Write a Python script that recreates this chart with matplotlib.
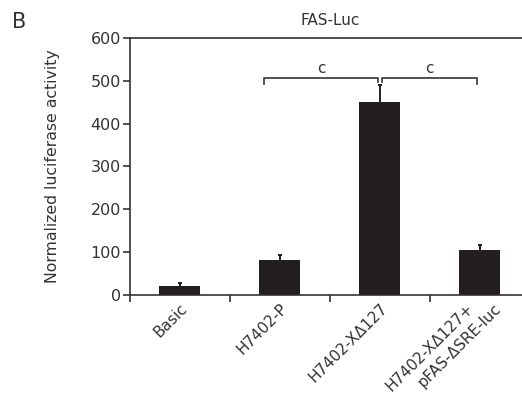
import matplotlib
matplotlib.use('Agg')
import matplotlib.pyplot as plt
import numpy as np

plt.rcParams['font.family'] = ['DejaVu Sans']

# data
groups = ['Basic', 'H7402-P', 'H7402-X\u0394127', 'H7402-X\u0394127+\npFAS-\u0394SRE-luc']
values = [21, 83, 451, 105]
errors = [9, 10, 39, 13]
yticks = [0, 100, 200, 300, 400, 500, 600]
bar_color = '#231f20'
text_color = '#333333'

fig = plt.figure(figsize=(5.22, 3.95), dpi=100)
ax = fig.add_axes([0.249, 0.252, 0.766, 0.653])

x = np.arange(len(groups))
tops = np.array(values) + np.array(errors)
ax.bar(x, values, width=0.41, color=bar_color, zorder=2)
# only the upper half of the error bars
ax.vlines(x, values, tops, color=bar_color, lw=1.4, zorder=1)
ax.hlines(tops, x - 0.02, x + 0.02, color=bar_color, lw=1.4, zorder=1)

# significance brackets
lc = '#333333'
ax.plot([0.84, 0.84, 1.985, 1.985], [493, 505, 505, 497], color=lc, lw=1.2)
ax.plot([2.025, 2.025, 2.97, 2.97], [497, 505, 505, 493], color=lc, lw=1.2)
ax.text((0.84 + 1.985) / 2, 511, 'c', ha='center', va='bottom', fontsize=11, color=text_color)
ax.text((2.025 + 2.97) / 2, 511, 'c', ha='center', va='bottom', fontsize=11, color=text_color)

ax.set_xlim(-0.5, 3.5)
ax.set_ylim(0, 600)
ax.set_yticks(yticks)
ax.set_xticks([-0.5, 0.5, 1.5, 2.5])
ax.set_xticklabels([])
ax.tick_params(axis='x', which='major', direction='out', length=5, width=1.2, color=lc)
ax.tick_params(axis='y', direction='out', length=5, width=1.2, color=lc,
               labelsize=11.5, labelcolor=text_color, pad=1.5)

# rotated category labels; the second line of a label is shifted sideways like in the original
for xi, lab in zip(x, groups):
    lines = lab.split('\n')
    n = len(lines)
    for i, line in enumerate(lines):
        ax.annotate(line, xy=(xi, 0), xycoords=ax.get_xaxis_transform(),
                    xytext=((i - (n - 1) / 2) * 20, -4), textcoords='offset points',
                    rotation=45, rotation_mode='anchor', ha='right', va='top',
                    fontsize=11, color=text_color, annotation_clip=False)

for s in ['left', 'bottom', 'top']:
    ax.spines[s].set_linewidth(1.2)
    ax.spines[s].set_color(lc)
ax.spines['right'].set_visible(False)

ax.set_ylabel('Normalized luciferase activity', fontsize=11.3, color=text_color, labelpad=22)
ax.set_title('FAS-Luc', fontsize=11, color=text_color, pad=9)
fig.text(12 / 522, 1 - 22.5 / 395, 'B', fontsize=15, color=text_color, ha='left', va='center')

fig.savefig('out.png', dpi=100)
